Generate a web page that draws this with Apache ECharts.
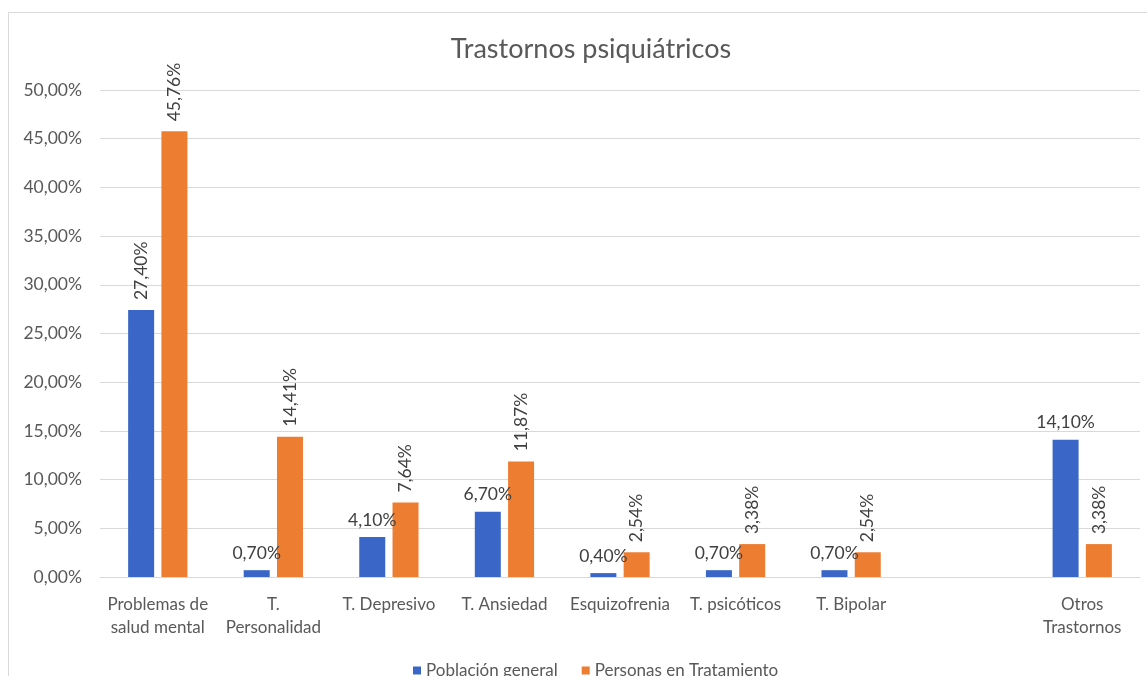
<!DOCTYPE html>
<html><head><meta charset="utf-8">
<script src="https://cdn.jsdelivr.net/npm/echarts@6/dist/echarts.min.js"></script>
<style>
html,body{margin:0;padding:0;background:#fff;}
#frame{position:absolute;left:8px;top:12px;width:1150px;height:680px;border:1px solid #d9d9d9;box-sizing:border-box;}
#c{position:absolute;left:0;top:0;width:1147px;height:676px;}
</style></head>
<body><div id="frame"></div><div id="c"></div>
<script>
const categories = ['Problemas de\nsalud mental', 'T.\nPersonalidad', 'T. Depresivo', 'T. Ansiedad', 'Esquizofrenia', 'T. psicóticos', 'T. Bipolar', '', 'Otros\nTrastornos'];
const poblacionGeneral = [27.40, 0.70, 4.10, 6.70, 0.40, 0.70, 0.70, null, 14.10];
const personasTratamiento = [45.76, 14.41, 7.64, 11.87, 2.54, 3.38, 2.54, null, 3.38];
const seriesNames = ['Población general', 'Personas en Tratamiento'];

const fmt = v => v.toFixed(2).replace('.', ',') + '%';
const font = 'Lato';
const txt = '#595959';

const chart = echarts.init(document.getElementById('c'));
chart.setOption({
  animation: false,
  textStyle: { fontFamily: font },
  title: { text: 'Trastornos psiquiátricos', left: 586, textAlign: 'center', top: 31,
    textStyle: { fontFamily: font, fontSize: 27, fontWeight: 'normal', color: txt } },
  legend: { data: seriesNames, left: 408, top: 657, itemWidth: 8, itemHeight: 8, itemGap: 24,
    icon: 'rect', textStyle: { fontFamily: font, fontSize: 17, color: txt } },
  grid: { left: 100, right: 7, top: 90, bottom: 99 },
  xAxis: { type: 'category', data: categories,
    axisLine: { lineStyle: { color: '#d9d9d9' } }, axisTick: { show: false },
    axisLabel: { fontFamily: font, fontSize: 17, color: txt, margin: 16, lineHeight: 23, interval: 0 } },
  yAxis: { type: 'value', min: 0, max: 50, interval: 5,
    axisLine: { show: false }, axisTick: { show: false },
    splitLine: { lineStyle: { color: '#d9d9d9' } },
    axisLabel: { fontFamily: font, fontSize: 17.5, color: txt, margin: 18, formatter: v => fmt(v) } },
  series: [
    { name: seriesNames[0], type: 'bar', barWidth: 26, barGap: '28%',
      itemStyle: { color: '#3a66c8' },
      data: poblacionGeneral.map((v, i) => i === 0 ? { value: v, label: { rotate: 90, align: 'left', verticalAlign: 'middle', distance: 10 } } : v),
      label: { show: true, position: 'top', distance: 8, fontFamily: font, fontSize: 17.5, color: '#404040',
        formatter: p => p.value == null ? '' : fmt(p.value) } },
    { name: seriesNames[1], type: 'bar', barWidth: 26,
      itemStyle: { color: '#ed7d31' },
      data: personasTratamiento,
      label: { show: true, position: 'top', rotate: 90, align: 'left', verticalAlign: 'middle', distance: 10,
        fontFamily: font, fontSize: 17.5, color: '#404040',
        formatter: p => p.value == null ? '' : fmt(p.value) } }
  ]
});
</script></body></html>
